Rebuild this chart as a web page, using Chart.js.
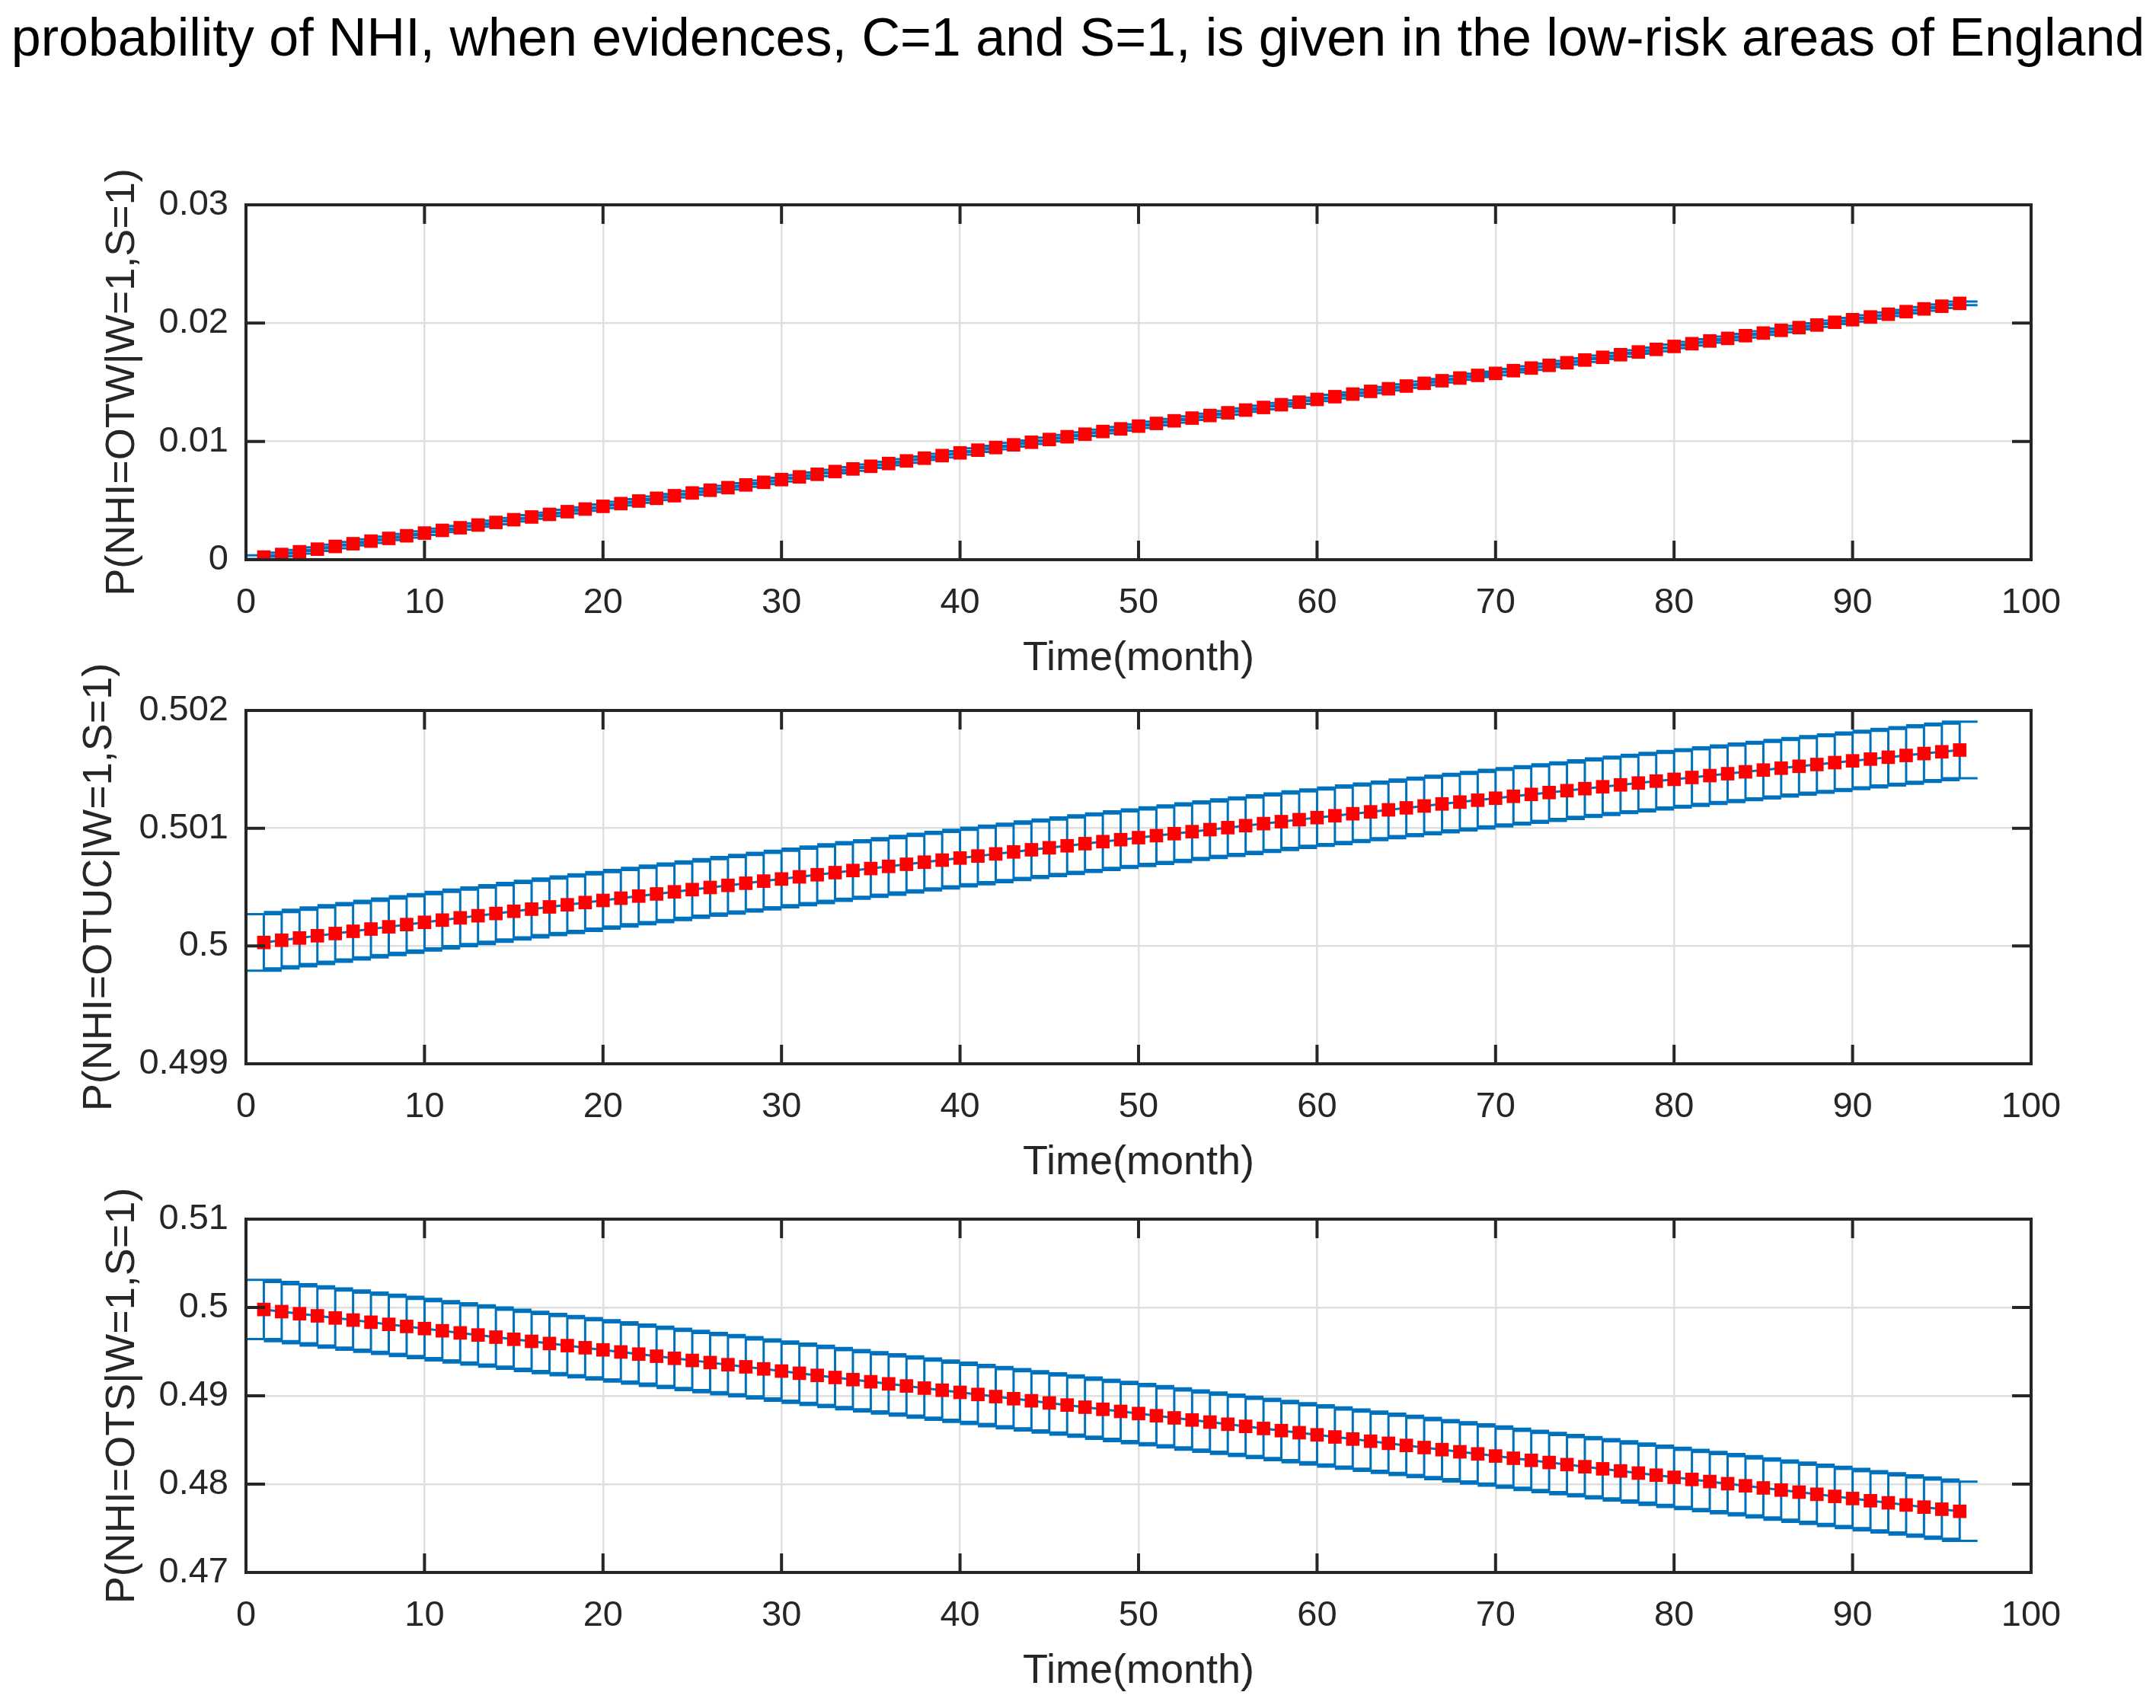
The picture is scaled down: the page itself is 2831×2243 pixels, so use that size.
<!DOCTYPE html>
<html>
<head>
<meta charset="utf-8">
<title>probability of NHI</title>
<script src="https://cdn.jsdelivr.net/npm/chart.js@4.4.0/dist/chart.umd.min.js"></script>
<style>
    html, body { margin: 0; padding: 0; background: #ffffff; }
    body { width: 2831px; height: 2243px; position: relative; overflow: hidden; }
    #title {
        position: absolute; left: 0; top: 14px; width: 2831px;
        text-align: center; white-space: nowrap;
        font-family: 'Liberation Sans', Arial, sans-serif;
        font-size: 70px; line-height: 70px; color: #000000;
    }
    canvas { position: absolute; left: 0; }
</style>
</head>
<body>
<div id="title">probability of NHI, when evidences, C=1 and S=1, is given in the low-risk areas of England</div>
<canvas id="panelW"></canvas>
<canvas id="panelUC"></canvas>
<canvas id="panelS"></canvas>
<script>
// ---- data ----
const months = [
    1, 2, 3, 4, 5, 6, 7, 8, 9, 10, 11, 12, 13, 14, 15, 16, 17, 18, 19, 20,
    21, 22, 23, 24, 25, 26, 27, 28, 29, 30, 31, 32, 33, 34, 35, 36, 37, 38, 39, 40,
    41, 42, 43, 44, 45, 46, 47, 48, 49, 50, 51, 52, 53, 54, 55, 56, 57, 58, 59, 60,
    61, 62, 63, 64, 65, 66, 67, 68, 69, 70, 71, 72, 73, 74, 75, 76, 77, 78, 79, 80,
    81, 82, 83, 84, 85, 86, 87, 88, 89, 90, 91, 92, 93, 94, 95, 96
];

// P(NHI=OTW | W=1,S=1)
const meanOTW = [
    0.00022, 0.00044, 0.00067, 0.00089, 0.00112, 0.00135, 0.00157, 0.00180, 0.00202, 0.00225,
    0.00248, 0.00270, 0.00293, 0.00315, 0.00338, 0.00361, 0.00383, 0.00406, 0.00428, 0.00451,
    0.00474, 0.00496, 0.00519, 0.00541, 0.00564, 0.00587, 0.00609, 0.00632, 0.00654, 0.00677,
    0.00700, 0.00722, 0.00745, 0.00767, 0.00790, 0.00813, 0.00835, 0.00858, 0.00880, 0.00903,
    0.00926, 0.00948, 0.00971, 0.00993, 0.01016, 0.01039, 0.01061, 0.01084, 0.01106, 0.01129,
    0.01152, 0.01174, 0.01197, 0.01219, 0.01242, 0.01265, 0.01287, 0.01310, 0.01332, 0.01355,
    0.01378, 0.01400, 0.01423, 0.01445, 0.01468, 0.01491, 0.01513, 0.01536, 0.01558, 0.01575,
    0.01598, 0.01620, 0.01643, 0.01665, 0.01688, 0.01711, 0.01733, 0.01756, 0.01778, 0.01803,
    0.01826, 0.01849, 0.01871, 0.01894, 0.01916, 0.01939, 0.01962, 0.01984, 0.02007, 0.02029,
    0.02052, 0.02075, 0.02097, 0.02120, 0.02143, 0.02167
];
const errOTW = 0.00015;

// P(NHI=OTUC | W=1,S=1)
const meanOTUC = [
    0.500030, 0.500049, 0.500068, 0.500087, 0.500106, 0.500125, 0.500144, 0.500163, 0.500182, 0.500201,
    0.500220, 0.500239, 0.500257, 0.500276, 0.500295, 0.500313, 0.500332, 0.500350, 0.500369, 0.500387,
    0.500406, 0.500424, 0.500442, 0.500460, 0.500479, 0.500497, 0.500515, 0.500533, 0.500551, 0.500569,
    0.500587, 0.500605, 0.500623, 0.500641, 0.500658, 0.500676, 0.500694, 0.500712, 0.500729, 0.500747,
    0.500764, 0.500782, 0.500799, 0.500817, 0.500834, 0.500851, 0.500869, 0.500886, 0.500903, 0.500920,
    0.500937, 0.500954, 0.500971, 0.500988, 0.501005, 0.501022, 0.501039, 0.501056, 0.501073, 0.501090,
    0.501106, 0.501123, 0.501139, 0.501156, 0.501173, 0.501189, 0.501206, 0.501222, 0.501238, 0.501255,
    0.501271, 0.501287, 0.501303, 0.501319, 0.501336, 0.501352, 0.501368, 0.501384, 0.501400, 0.501415,
    0.501431, 0.501447, 0.501463, 0.501479, 0.501494, 0.501510, 0.501526, 0.501541, 0.501557, 0.501572,
    0.501587, 0.501603, 0.501618, 0.501634, 0.501649, 0.501664
];
const errOTUC = 0.00024;

// P(NHI=OTS | W=1,S=1)
const meanOTS = [
    0.49977, 0.49953, 0.49929, 0.49905, 0.49881, 0.49857, 0.49833, 0.49809, 0.49785, 0.49761,
    0.49736, 0.49712, 0.49688, 0.49664, 0.49640, 0.49616, 0.49592, 0.49568, 0.49544, 0.49520,
    0.49496, 0.49472, 0.49448, 0.49424, 0.49400, 0.49376, 0.49352, 0.49328, 0.49304, 0.49280,
    0.49255, 0.49231, 0.49207, 0.49183, 0.49159, 0.49135, 0.49111, 0.49087, 0.49063, 0.49039,
    0.49015, 0.48991, 0.48967, 0.48943, 0.48919, 0.48895, 0.48871, 0.48847, 0.48823, 0.48799,
    0.48774, 0.48750, 0.48726, 0.48702, 0.48678, 0.48654, 0.48630, 0.48606, 0.48582, 0.48558,
    0.48534, 0.48510, 0.48486, 0.48462, 0.48438, 0.48414, 0.48390, 0.48366, 0.48342, 0.48318,
    0.48293, 0.48269, 0.48245, 0.48221, 0.48197, 0.48173, 0.48149, 0.48125, 0.48101, 0.48077,
    0.48053, 0.48029, 0.48005, 0.47981, 0.47957, 0.47933, 0.47909, 0.47885, 0.47861, 0.47837,
    0.47812, 0.47788, 0.47764, 0.47740, 0.47716, 0.47692
];
const errOTS = 0.00335;

// axis ranges / tick labels
const xRange = [0, 100];
const xStep = 10;
const yRangeOTW = [0, 0.03];
const yRangeOTUC = [0.499, 0.502];
const yRangeOTS = [0.47, 0.51];
const yStepOTW = 0.01;
const yStepOTUC = 0.001;
const yStepOTS = 0.01;

// ---- styling ----
const FONT = "'Liberation Sans', Arial, sans-serif";
const AXIS_COLOR = '#262626';
const GRID_COLOR = '#dfdfdf';
const ERR_COLOR = '#0072BD';
const MARKER_COLOR = '#FF0000';
const TICK_LEN = 25;
const CAP_HALF = 1;      // in months, caps reach the neighbouring stems

Chart.defaults.font.family = FONT;
Chart.defaults.color = AXIS_COLOR;

/**
 * Error bars (stem + caps), drawn under the markers
 */
function makeErrorBars(xs, ys, err) {
    return {
        id: 'errorBars',
        beforeDatasetsDraw(chart) {
            const { ctx, scales: { x, y } } = chart;
            ctx.save();
            ctx.strokeStyle = ERR_COLOR;
            ctx.lineWidth = 3;
            ctx.beginPath();
            xs.forEach((m, i) => {
                const px = x.getPixelForValue(m);
                const yt = y.getPixelForValue(ys[i] + err);
                const yb = y.getPixelForValue(ys[i] - err);
                const xl = x.getPixelForValue(m - CAP_HALF);
                const xr = x.getPixelForValue(m + CAP_HALF);
                ctx.moveTo(px, yt); ctx.lineTo(px, yb);
                ctx.moveTo(xl, yt); ctx.lineTo(xr, yt);
                ctx.moveTo(xl, yb); ctx.lineTo(xr, yb);
            });
            ctx.stroke();
            ctx.restore();
        }
    };
}

/**
 * MATLAB-like box with inward tick marks on all four sides
 */
const axesBox = {
    id: 'axesBox',
    afterDatasetsDraw(chart) {
        const { ctx, chartArea: a, scales: { x, y } } = chart;
        ctx.save();
        ctx.strokeStyle = AXIS_COLOR;
        ctx.lineWidth = 4;
        ctx.beginPath();
        x.ticks.forEach(t => {
            const px = x.getPixelForValue(t.value);
            ctx.moveTo(px, a.bottom); ctx.lineTo(px, a.bottom - TICK_LEN);
            ctx.moveTo(px, a.top); ctx.lineTo(px, a.top + TICK_LEN);
        });
        y.ticks.forEach(t => {
            const py = y.getPixelForValue(t.value);
            ctx.moveTo(a.left, py); ctx.lineTo(a.left + TICK_LEN, py);
            ctx.moveTo(a.right, py); ctx.lineTo(a.right - TICK_LEN, py);
        });
        ctx.stroke();
        ctx.strokeRect(a.left, a.top, a.right - a.left, a.bottom - a.top);
        ctx.restore();
    }
};

/**
 * Build one subplot
 */
function drawPanel(canvasId, layout, yLabel, mean, err, yRange, yStep) {
    const canvas = document.getElementById(canvasId);
    // room above the box for the long rotated y label
    const padTop = 90;
    const xAxisHeight = 163;
    const height = padTop + (layout.bottom - layout.top) + xAxisHeight;
    canvas.width = 2831;
    canvas.height = height;
    canvas.style.top = (layout.top - padTop) + 'px';
    canvas.style.width = '2831px';
    canvas.style.height = height + 'px';

    const points = months.map((m, i) => ({ x: m, y: mean[i] }));

    return new Chart(canvas, {
        type: 'line',
        data: {
            datasets: [
                {
                    // red square markers
                    data: points,
                    showLine: false,
                    pointStyle: 'rect',
                    pointRadius: 12.5,
                    pointBackgroundColor: MARKER_COLOR,
                    pointBorderColor: MARKER_COLOR,
                    pointBorderWidth: 0,
                    order: 0
                },
                {
                    // errorbar connecting line
                    data: points,
                    borderColor: ERR_COLOR,
                    borderWidth: 3,
                    pointRadius: 0,
                    tension: 0,
                    order: 1
                }
            ]
        },
        options: {
            responsive: false,
            animation: false,
            devicePixelRatio: 1,
            layout: { padding: { top: padTop, left: layout.padLeft, right: 164, bottom: 0 } },
            plugins: {
                legend: { display: false },
                tooltip: { enabled: false }
            },
            scales: {
                x: {
                    type: 'linear',
                    min: xRange[0],
                    max: xRange[1],
                    afterFit: s => { s.height = xAxisHeight; },
                    ticks: {
                        stepSize: xStep,
                        padding: 29,
                        maxRotation: 0,
                        autoSkip: false,
                        font: { size: 47 },
                        color: AXIS_COLOR
                    },
                    grid: { color: GRID_COLOR, lineWidth: 2.5, drawTicks: false },
                    border: { display: false },
                    title: {
                        display: true,
                        text: 'Time(month)',
                        font: { size: 54 },
                        color: AXIS_COLOR,
                        padding: 0
                    }
                },
                y: {
                    type: 'linear',
                    min: yRange[0],
                    max: yRange[1],
                    afterFit: s => { s.width = 323 - layout.padLeft; },
                    ticks: {
                        stepSize: yStep,
                        padding: 23,
                        font: { size: 47 },
                        color: AXIS_COLOR,
                        callback: v => String(+v.toFixed(4))
                    },
                    grid: { color: GRID_COLOR, lineWidth: 2.5, drawTicks: false },
                    border: { display: false },
                    title: {
                        display: true,
                        text: yLabel,
                        font: { size: 54 },
                        color: AXIS_COLOR,
                        padding: 0
                    }
                }
            }
        },
        plugins: [makeErrorBars(months, mean, err), axesBox]
    });
}

drawPanel('panelW', { top: 269, bottom: 735, padLeft: 129 },
    'P(NHI=OTW|W=1,S=1)', meanOTW, errOTW, yRangeOTW, yStepOTW);
drawPanel('panelUC', { top: 933, bottom: 1397, padLeft: 99 },
    'P(NHI=OTUC|W=1,S=1)', meanOTUC, errOTUC, yRangeOTUC, yStepOTUC);
drawPanel('panelS', { top: 1601, bottom: 2065, padLeft: 129 },
    'P(NHI=OTS|W=1,S=1)', meanOTS, errOTS, yRangeOTS, yStepOTS);
</script>
</body>
</html>
